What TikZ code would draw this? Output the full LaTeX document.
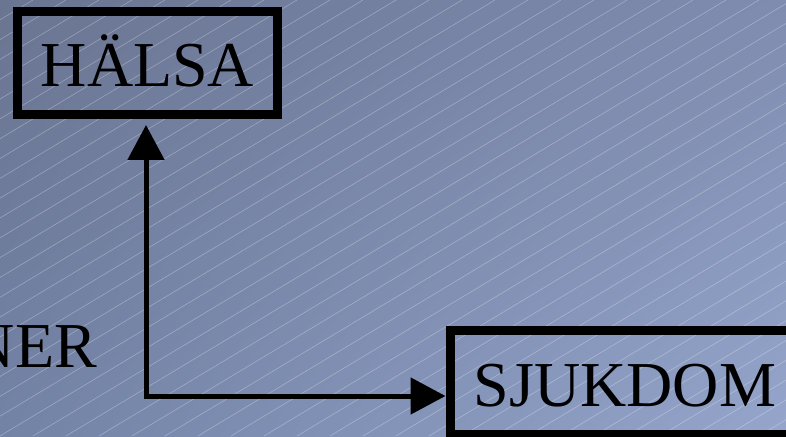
\documentclass[tikz,border=0pt]{standalone}
\usepackage{fontspec}
\setmainfont{Liberation Serif}
\usetikzlibrary{arrows.meta,shadings}
\definecolor{bgtopleft}{RGB}{106,117,145}
\definecolor{bgtopright}{RGB}{127,140,176}
\definecolor{bgbotleft}{RGB}{115,131,166}
\definecolor{bgbotright}{RGB}{149,165,203}

\begin{document}
\begin{tikzpicture}[scale=1.000000,x=1pt,y=1pt,
  wordbox/.style={draw=black,line width=9pt,minimum height=103pt,
    inner sep=0pt,text height=48pt,text depth=0pt,font=\fontsize{64}{64}\selectfont},
  wordtext/.style={inner sep=0pt,font=\fontsize{64}{64}\selectfont},
  link/.style={line width=5pt,{Triangle[length=35pt,width=36pt]}-{Triangle[length=35pt,width=36pt]}}]
\useasboundingbox (0.000000,0.000000) rectangle (786.000000,436.000000);
\clip (0.000000,0.000000) rectangle (786.000000,436.000000);
% Drawing background
\shade[upper left=bgtopleft,upper right=bgtopright,lower left=bgbotleft,lower right=bgbotright]
  (0.000000,0.000000) rectangle (786.000000,436.000000);
\foreach \x in {-726,-693,...,786}
  \draw[white,opacity=0.3,line width=0.6pt] (\x,0) -- ++(726,436);
% Done with background; drawing words
\node[wordbox,minimum width=260pt] (halsa) at (147.500000,373.000000) {HÄLSA};
\node[wordbox,minimum width=350pt] (sjukdom) at (625.000000,53.500000) {SJUKDOM};
\node[wordtext,anchor=base east] (ner) at (97.000000,68.000000) {NER};
% Done with words; drawing arrow
\coordinate (bend) at (146.000000,40.000000);
\draw[link] ([yshift=-6pt]halsa.south -| bend) -- (bend) -- (bend -| sjukdom.west);
% Done with arrow
\end{tikzpicture}
\end{document}
